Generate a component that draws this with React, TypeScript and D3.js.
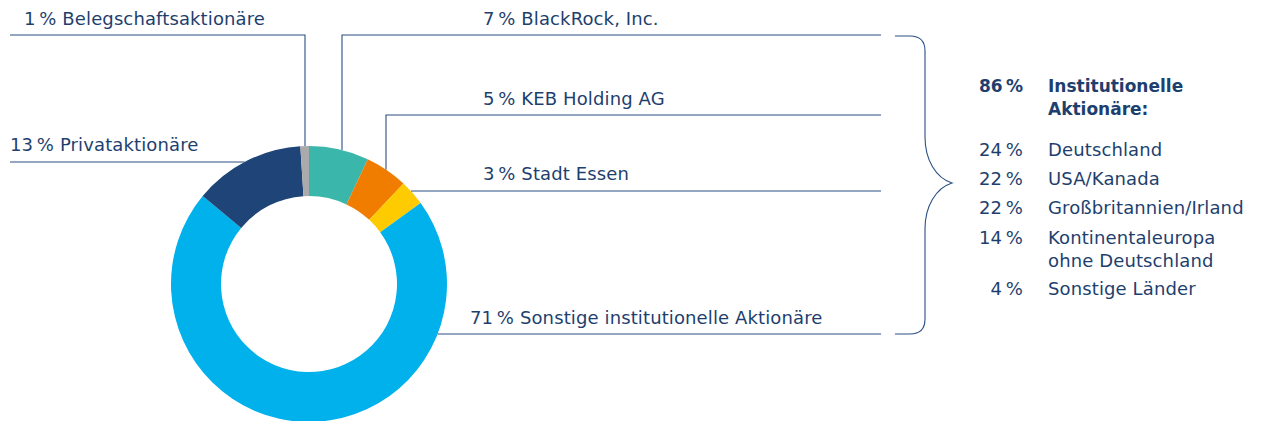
import React from "react";
import * as d3 from "d3";

const W = 1261;
const H = 421;

// ---- data ----
const sliceNames = [
  "BlackRock, Inc.",
  "KEB Holding AG",
  "Stadt Essen",
  "Sonstige institutionelle Aktionäre",
  "Privataktionäre",
  "Belegschaftsaktionäre",
];
const sliceValues = [7, 5, 3, 71, 13, 1];
const sliceColors = ["#3bb6aa", "#f07d00", "#fecb00", "#00b1eb", "#1e4478", "#aaaaaa"];

const instTotal = 86;
const instTitle = ["Institutionelle", "Aktionäre:"];
const regionValues = [24, 22, 22, 14, 4];
const regionNames = [
  ["Deutschland"],
  ["USA/Kanada"],
  ["Großbritannien/Irland"],
  ["Kontinentaleuropa", "ohne Deutschland"],
  ["Sonstige Länder"],
];

// ---- layout ----
const cx = 309;
const cy = 284;
const rOuter = 138;
const rInner = 88;
const TEXT = "#1e3f6e";
const LINE = "#2a4f82";
const FONT = "'DejaVu Sans', sans-serif";
const FS = 18;
const LS = 0.12;

const labelLayout = [
  { tx: 483, ty: 25, kind: "hv", y: 35, x0: 881, xv: 342 },
  { tx: 483, ty: 105, kind: "hv", y: 115, x0: 881, xv: 386 },
  { tx: 483, ty: 180, kind: "h", y: 191, x0: 881 },
  { tx: 470, ty: 324, kind: "h", y: 334, x0: 881 },
  { tx: 10, ty: 151, kind: "h", y: 162, x0: 10 },
  { tx: 24, ty: 25, kind: "hv", y: 35, x0: 10, xv: 305 },
];

function circleY(x: number) {
  const dx = x - cx;
  return cy - Math.sqrt(rOuter * rOuter - dx * dx);
}
function circleX(y: number, side: number) {
  const dy = y - cy;
  return cx + side * Math.sqrt(rOuter * rOuter - dy * dy);
}

export default function App() {
  const pie = d3
    .pie<number>()
    .sort(null)
    .value((d) => d)
    .startAngle(0)
    .endAngle(2 * Math.PI);
  const arcs = pie(sliceValues);
  const arcGen = d3.arc<d3.PieArcDatum<number>>().innerRadius(rInner).outerRadius(rOuter);

  const leaders = labelLayout.map((l) => {
    if (l.kind === "hv") {
      const yEnd = circleY(l.xv as number);
      return `M${l.x0},${l.y}H${l.xv}V${yEnd}`;
    }
    const side = l.x0 > cx ? 1 : -1;
    return `M${l.x0},${l.y}H${circleX(l.y, side)}`;
  });

  const brace =
    "M895,36H910Q925,36 925,51V137C925,160 936,178 952,183C936,188 925,206 925,229V319Q925,334 910,334H895";

  const pctX = 1023;
  const nameX = 1048;
  const rowBaselines = [156, 185, 214, 244, 295];

  return (
    <svg
      width={W}
      height={H}
      style={{ position: "absolute", left: 0, top: 0, background: "#fff" }}
      fontFamily={FONT}
    >
      <g transform={`translate(${cx},${cy})`}>
        {arcs.map((a, i) => (
          <path key={i} d={arcGen(a) as string} fill={sliceColors[i]} />
        ))}
      </g>
      {leaders.map((d, i) => (
        <path key={i} d={d} fill="none" stroke={LINE} strokeWidth={1.1} />
      ))}
      {labelLayout.map((l, i) => (
        <text key={i} x={l.tx} y={l.ty} fill={TEXT} fontSize={FS} letterSpacing={LS}>
          {`${sliceValues[i]}\u2009% ${sliceNames[i]}`}
        </text>
      ))}
      <path d={brace} fill="none" stroke={LINE} strokeWidth={1.1} />
      <text x={pctX} y={92} fill={TEXT} fontSize={17} fontWeight={700} textAnchor="end">
        {`${instTotal}\u2009%`}
      </text>
      {instTitle.map((t, i) => (
        <text key={i} x={nameX} y={92 + i * 23} fill={TEXT} fontSize={17} fontWeight={700}>
          {t}
        </text>
      ))}
      {regionValues.map((v, i) => (
        <g key={i}>
          <text x={pctX} y={rowBaselines[i]} fill={TEXT} fontSize={FS} letterSpacing={LS} textAnchor="end">
            {`${v}\u2009%`}
          </text>
          {regionNames[i].map((n, j) => (
            <text key={j} x={nameX} y={rowBaselines[i] + j * 23} fill={TEXT} fontSize={FS} letterSpacing={LS}>
              {n}
            </text>
          ))}
        </g>
      ))}
    </svg>
  );
}
